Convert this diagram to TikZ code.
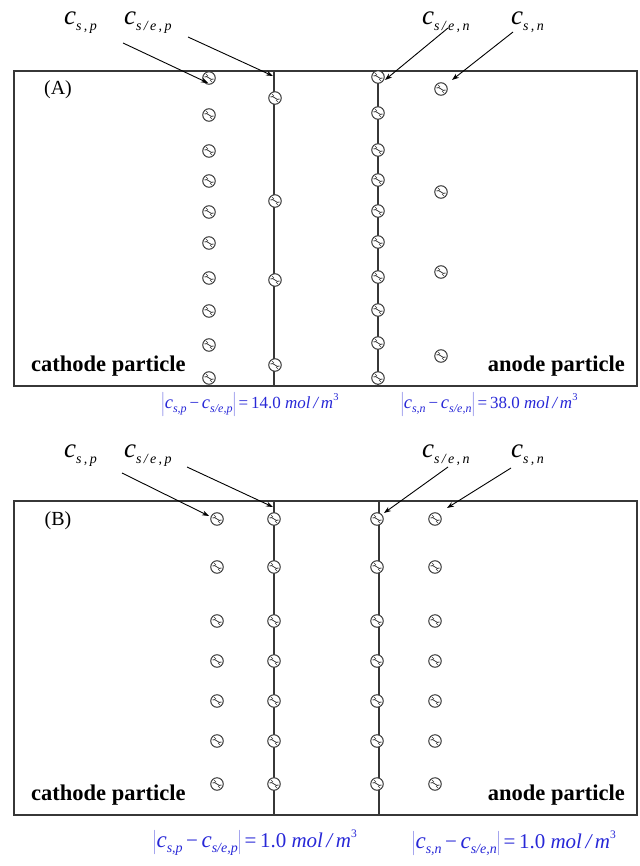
\documentclass[tikz,border=0pt]{standalone}
\usepackage{fontspec}
\setmainfont{Liberation Serif}
\usetikzlibrary{arrows.meta}
\definecolor{lbl}{RGB}{40,40,215}
\definecolor{ln}{RGB}{55,55,55}
\newcommand{\cs}[4]{{\fontsize{#1}{#1}\selectfont\itshape c}\raisebox{-#3}{\fontsize{#2}{#2}\selectfont\itshape #4}}
\newcommand{\supthree}[2]{\raisebox{#1}{\fontsize{#2}{#2}\selectfont 3}}
\tikzset{
  frame/.style={draw=ln, line width=1.2pt},
  wall/.style={draw=ln, line width=1.1pt},
  ball/.style={circle, draw=ln, line width=1pt, minimum size=12.5pt, inner sep=0pt, fill=white,
    path picture={
      \draw[ln, line width=0.8pt]
        ([xshift=-4.5pt,yshift=1pt]path picture bounding box.center) .. controls +(2pt,0.5pt) and +(-2pt,2pt) ..
        ([xshift=0pt,yshift=0pt]path picture bounding box.center) .. controls +(2pt,-2pt) and +(-2pt,-0.5pt) ..
        ([xshift=4.5pt,yshift=-1pt]path picture bounding box.center);
      \draw[ln, line width=0.6pt]
        ([xshift=-3pt,yshift=4pt]path picture bounding box.center) -- ([xshift=-1pt,yshift=2pt]path picture bounding box.center)
        ([xshift=1pt,yshift=-2pt]path picture bounding box.center) -- ([xshift=3pt,yshift=-4pt]path picture bounding box.center);}},
  ptr/.style={draw=black, line width=0.9pt, -{Stealth[length=7pt,width=5pt]}},
  clabel/.style={inner sep=0pt, anchor=base west},
  tag/.style={inner sep=0pt, font=\fontsize{20}{20}\selectfont},
  part/.style={inner sep=0pt, font=\fontsize{22.5}{22.5}\selectfont\bfseries},
  diffA/.style={inner sep=0pt, text=lbl, font=\fontsize{17}{17}\selectfont},
  diffB/.style={inner sep=0pt, text=lbl, font=\fontsize{21}{21}\selectfont}
}
\begin{document}
\begin{tikzpicture}[x=1pt,y=-1pt]
\useasboundingbox (0,0) rectangle (639,866);

% ================= Panel A =================
\draw[frame] (14,71) rectangle (637,386);
\coordinate (AwpT) at (274,71); \coordinate (AwpB) at (274,386);
\coordinate (AwnT) at (378,71); \coordinate (AwnB) at (378,386);
\draw[wall] (AwpT) -- (AwpB);
\draw[wall] (AwnT) -- (AwnB);
\foreach \y [count=\i] in {78,115,151,181,212,243,278,311,345,378}
  \node[ball] (Asp\i) at (209,\y) {};
\foreach \y [count=\i] in {98,201,280,365}
  \node[ball] (Asep\i) at (275,\y) {};
\foreach \y [count=\i] in {77,113,150,180,211,242,277,310,343,378}
  \node[ball] (Asen\i) at (378,\y) {};
\foreach \y [count=\i] in {89,192,272,356}
  \node[ball] (Asn\i) at (441,\y) {};

\node[clabel] (LAsp) at (64,25) {\cs{27}{14}{6pt}{s\,,\,p}};
\node[clabel] (LAsep) at (124,25) {\cs{27}{14}{6pt}{s\,/\,e\,,\,p}};
\node[clabel] (LAsen) at (422,25) {\cs{27}{14}{6pt}{s\,/\,e\,,\,n}};
\node[clabel] (LAsn) at (511,25) {\cs{27}{14}{6pt}{s\,,\,n}};
\coordinate (sA1) at (123,43); \coordinate (eA1) at (208,83);
\coordinate (sA2) at (188,37); \coordinate (eA2) at (273,76);
\coordinate (sA3) at (448,28); \coordinate (eA3) at (385,80);
\coordinate (sA4) at (513,32); \coordinate (eA4) at (452,80);
\draw[ptr] (sA1) -- (eA1);
\draw[ptr] (sA2) -- (eA2);
\draw[ptr] (sA3) -- (eA3);
\draw[ptr] (sA4) -- (eA4);

\node[tag] (tagA) at (58,90) {(A)};
\node[part, anchor=base west] (catA) at (31,371) {cathode particle};
\node[part, anchor=base east] (anA) at (625,371) {anode particle};

\node[diffA] (dAp) at (250,404) {$\left|\hbox{\cs{18.5}{12}{4pt}{s,p}\,−\,\cs{18.5}{12}{4pt}{s/e,p}}\right|$\,=\,14.0 \textit{mol\,/\,m}\supthree{8pt}{10.5}};
\node[diffA] (dAn) at (489,404) {$\left|\hbox{\cs{18.5}{12}{4pt}{s,n}\,−\,\cs{18.5}{12}{4pt}{s/e,n}}\right|$\,=\,38.0 \textit{mol\,/\,m}\supthree{8pt}{10.5}};

% ================= Panel B =================
\draw[frame] (14,501) rectangle (637,815);
\coordinate (BwpT) at (274,501); \coordinate (BwpB) at (274,815);
\coordinate (BwnT) at (379,501); \coordinate (BwnB) at (379,815);
\draw[wall] (BwpT) -- (BwpB);
\draw[wall] (BwnT) -- (BwnB);
\foreach \y [count=\i] in {519,567,621,661,701,741,784} {
  \node[ball] (Bsp\i) at (217,\y) {};
  \node[ball] (Bsep\i) at (274,\y) {};
  \node[ball] (Bsen\i) at (377,\y) {};
  \node[ball] (Bsn\i) at (435,\y) {};
}

\node[clabel] (LBsp) at (64,457) {\cs{27}{14}{6pt}{s\,,\,p}};
\node[clabel] (LBsep) at (124,457) {\cs{27}{14}{6pt}{s\,/\,e\,,\,p}};
\node[clabel] (LBsen) at (422,457) {\cs{27}{14}{6pt}{s\,/\,e\,,\,n}};
\node[clabel] (LBsn) at (511,457) {\cs{27}{14}{6pt}{s\,,\,n}};
\coordinate (sB1) at (122,473); \coordinate (eB1) at (209,516);
\coordinate (sB2) at (187,467); \coordinate (eB2) at (273,507);
\coordinate (sB3) at (448,467); \coordinate (eB3) at (384,513);
\coordinate (sB4) at (511,468); \coordinate (eB4) at (447,508);
\draw[ptr] (sB1) -- (eB1);
\draw[ptr] (sB2) -- (eB2);
\draw[ptr] (sB3) -- (eB3);
\draw[ptr] (sB4) -- (eB4);

\node[tag] (tagB) at (58,521) {(B)};
\node[part, anchor=base west] (catB) at (31,800) {cathode particle};
\node[part, anchor=base east] (anB) at (625,800) {anode particle};

\node[diffB] (dBp) at (255,843) {$\left|\hbox{\cs{23}{14}{5pt}{s,p}\,−\,\cs{23}{14}{5pt}{s/e,p}}\right|$\,=\,1.0 \textit{mol\,/\,m}\supthree{10pt}{11.5}};
\node[diffB] (dBn) at (514,843) {$\left|\hbox{\cs{23}{14}{5pt}{s,n}\,−\,\cs{23}{14}{5pt}{s/e,n}}\right|$\,=\,1.0 \textit{mol\,/\,m}\supthree{10pt}{11.5}};
\end{tikzpicture}
\end{document}
